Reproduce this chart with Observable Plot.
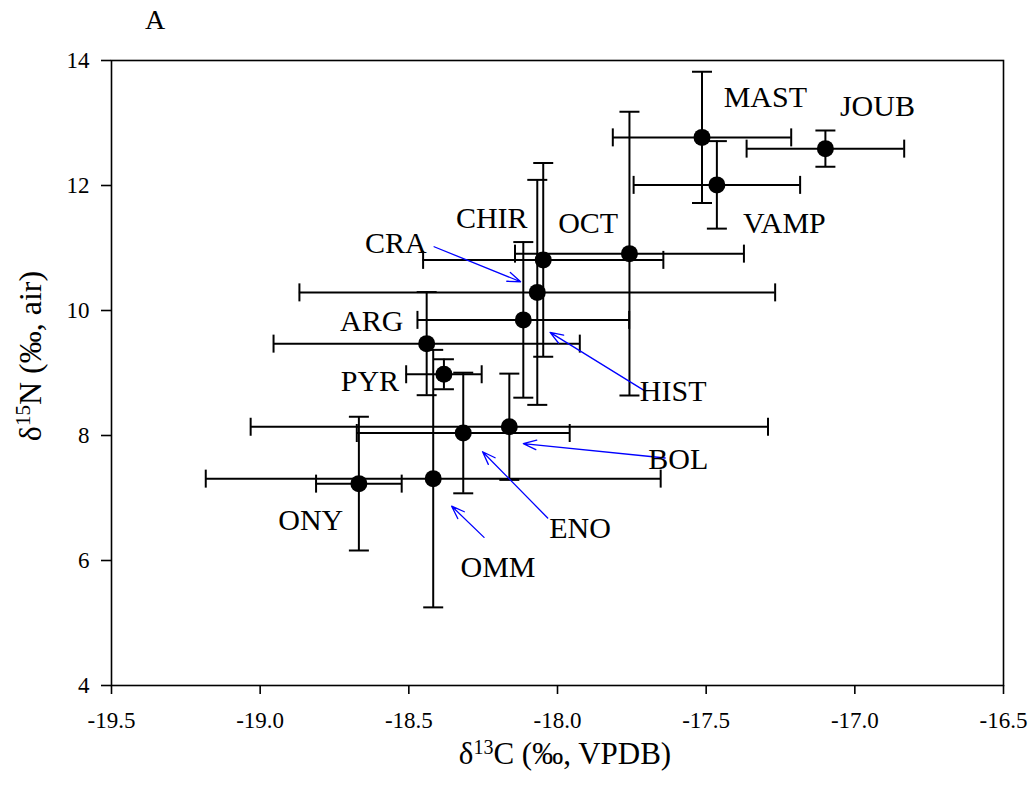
<!DOCTYPE html>
<html><head><meta charset="utf-8">
<script src="https://cdn.jsdelivr.net/npm/d3@7"></script>
<script src="https://cdn.jsdelivr.net/npm/@observablehq/plot@0.6"></script>
<style>
  html,body{margin:0;padding:0;background:#fff}
  svg{display:block;overflow:visible}
</style>
</head><body><div id="chart"></div>
<script>
// ---- data ----
const groups = ["MAST","JOUB","VAMP","OCT","CHIR","CRA","HIST","ARG","PYR","ENO","BOL","ONY","OMM"];
const d13C   = [-17.514,-17.099,-17.464,-17.758,-18.048,-18.068,-18.115,-18.440,-18.382,-18.317,-18.162,-18.668,-18.418];
const d15N   = [12.77, 12.59, 12.01, 10.91, 10.81, 10.29, 9.85, 9.47, 8.98, 8.04, 8.14, 7.23, 7.31];
const sdC    = [0.30, 0.265, 0.28, 0.385, 0.404, 0.80, 0.356, 0.515, 0.127, 0.358, 0.87, 0.144, 0.765];
const sdN    = [1.05, 0.29, 0.70, 2.27, 1.55, 1.80, 1.245, 0.825, 0.24, 0.965, 0.85, 1.07, 2.06];
// label positions (data units)
const labelX = [-17.301,-16.924,-17.237,-17.897,-18.221,-18.544,-17.611,-18.625,-18.631,-17.924,-17.594,-18.830,-18.200];
const labelY = [13.41, 13.26, 11.40, 11.40, 11.48, 11.07, 8.70, 9.83, 8.87, 6.52, 7.62, 6.64, 5.89];
// annotation arrows
const arrowFor = ["CRA","HIST","BOL","ENO","OMM"];
const arrowX1 = [-18.415,-17.705,-17.638,-18.033,-18.247];
const arrowY1 = [11.02, 8.71, 7.64, 6.68, 6.37];
const arrowX2 = [-18.124,-18.025,-18.115,-18.252,-18.356];
const arrowY2 = [10.46, 9.65, 7.87, 7.74, 6.87];
// axes
const xTicks = [-19.5,-19.0,-18.5,-18.0,-17.5,-17.0,-16.5];
const yTicks = [4,6,8,10,12,14];
const xDomain = [-19.5,-16.5];
const yDomain = [4,14];

const pts = groups.map((g,i)=>({g, x:d13C[i], y:d15N[i], sx:sdC[i], sy:sdN[i], lx:labelX[i], ly:labelY[i]}));
const arrows = arrowFor.map((g,i)=>({g, x1:arrowX1[i], y1:arrowY1[i], x2:arrowX2[i], y2:arrowY2[i]}));

const capH = {draw(ctx){ ctx.moveTo(-10,0); ctx.lineTo(10,0); }};
const capV = {draw(ctx){ ctx.moveTo(0,-9); ctx.lineTo(0,9); }};

const W = 1033, H = 797, mL = 111, mR = 30, mT = 60, mB = 112;
const FONT = "'Liberation Serif','Times New Roman',serif";
const bar = {stroke:"black", strokeWidth:2};

const plot = Plot.plot({
  width: W, height: H,
  marginLeft: mL, marginRight: mR, marginTop: mT, marginBottom: mB,
  style: {fontFamily: FONT, fontSize: "23px", color: "black", background: "white", overflow: "visible"},
  x: {domain: xDomain},
  y: {domain: yDomain},
  marks: [
    Plot.frame({stroke:"black", strokeWidth:1.6}),
    Plot.axisX(xTicks, {tickSize: 9, tickPadding: 17, tickFormat: d => d.toFixed(1), strokeWidth: 1.6, label: null}),
    Plot.axisY(yTicks, {tickSize: 10, tickPadding: 12, tickFormat: d => String(d), strokeWidth: 1.6, label: null}),
    // vertical error bars
    Plot.ruleX(pts, {x:"x", y1: d=>d.y-d.sy, y2: d=>d.y+d.sy, ...bar}),
    Plot.dot(pts, {x:"x", y: d=>d.y+d.sy, symbol: capH, fill:"none", ...bar}),
    Plot.dot(pts, {x:"x", y: d=>d.y-d.sy, symbol: capH, fill:"none", ...bar}),
    // horizontal error bars
    Plot.ruleY(pts, {y:"y", x1: d=>d.x-d.sx, x2: d=>d.x+d.sx, ...bar}),
    Plot.dot(pts, {x: d=>d.x-d.sx, y:"y", symbol: capV, fill:"none", ...bar}),
    Plot.dot(pts, {x: d=>d.x+d.sx, y:"y", symbol: capV, fill:"none", ...bar}),
    // means
    Plot.dot(pts, {x:"x", y:"y", r: 8.5, fill:"black", stroke:"none"}),
    // arrows
    Plot.arrow(arrows, {x1:"x1", y1:"y1", x2:"x2", y2:"y2", stroke:"blue", strokeWidth:1.3, headLength:16, headAngle:40}),
    // labels
    Plot.text(pts, {x:"lx", y:"ly", text:"g", fontSize: 30, fill:"black"})
  ]
});

document.getElementById("chart").appendChild(plot);

const svg = d3.select(plot);

// titles with superscripts
const cx = mL + (W - mL - mR) / 2;
const xt = svg.append("text")
  .attr("x", cx + 8).attr("y", 764)
  .attr("text-anchor", "middle")
  .attr("font-family", FONT).attr("font-size", 31).attr("fill", "black");
xt.append("tspan").text("δ");
xt.append("tspan").attr("dy", -10).attr("font-size", 20).text("13");
xt.append("tspan").attr("dy", 10).text("C (‰, VPDB)");

const yt = svg.append("text")
  .attr("transform", `translate(41,356) rotate(-90)`)
  .attr("text-anchor", "middle")
  .attr("font-family", FONT).attr("font-size", 32).attr("fill", "black");
yt.append("tspan").text("δ");
yt.append("tspan").attr("dy", -11).attr("font-size", 21).text("15");
yt.append("tspan").attr("dy", 11).text("N (‰, air)");

svg.append("text")
  .attr("x", 155).attr("y", 29)
  .attr("text-anchor", "middle")
  .attr("font-family", FONT).attr("font-size", 28).attr("fill", "black")
  .text("A");
</script>
</body></html>
